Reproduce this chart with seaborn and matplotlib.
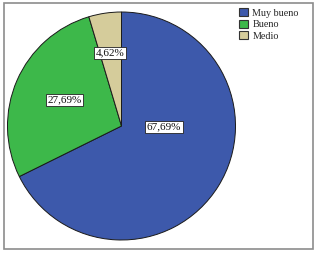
import matplotlib
matplotlib.use("Agg")
import matplotlib.pyplot as plt
import seaborn as sns
from matplotlib.patches import Rectangle

categories = ["Muy bueno", "Bueno", "Medio"]
values = [67.69, 27.69, 4.62]
labels = ["67,69%", "27,69%", "4,62%"]
colors = ["#3D59AB", "#3DB84A", "#D5CC9B"]

sns.set_style("white")
plt.rcParams['font.family'] = ['Liberation Serif', 'DejaVu Serif']

fig = plt.figure(figsize=(3.16, 2.54), dpi=100)
fig.patch.set_facecolor("white")

# outer border
fig.add_artist(Rectangle((4/316, 5/254), 309/316, 246/254, transform=fig.transFigure,
                         fill=False, edgecolor="#8c8c8c", linewidth=1.2))

ax = fig.add_axes([7.5/316, 14/254, 228/316, 228/254])
pal = sns.color_palette(colors)
wedges, _ = ax.pie(values, colors=pal, startangle=90, counterclock=False, radius=1,
                   wedgeprops=dict(edgecolor="#1a1a1a", linewidth=0.7))
ax.set_xlim(-1.0, 1.0)
ax.set_ylim(-1.0, 1.0)
ax.set_aspect("equal")
ax.axis("off")

label_pos = [(0.37, -0.01), (-0.50, 0.23), (-0.10, 0.64)]
for (x, y), t in zip(label_pos, labels):
    ax.text(x, y, t, ha="center", va="center", fontsize=8, color="#111111",
            bbox=dict(boxstyle="square,pad=0.15", facecolor="white", edgecolor="#222222", linewidth=0.6))

leg = fig.legend(wedges, categories, loc="upper left", bbox_to_anchor=(235/316, 250/254),
                 frameon=False, fontsize=7.3, handlelength=0.85, handleheight=0.85,
                 handletextpad=0.45, labelspacing=0.2, borderaxespad=0)
for h in leg.legend_handles:
    h.set_edgecolor("#333333")
    h.set_linewidth(0.8)

fig.savefig("out.png", dpi=100, facecolor="white")
